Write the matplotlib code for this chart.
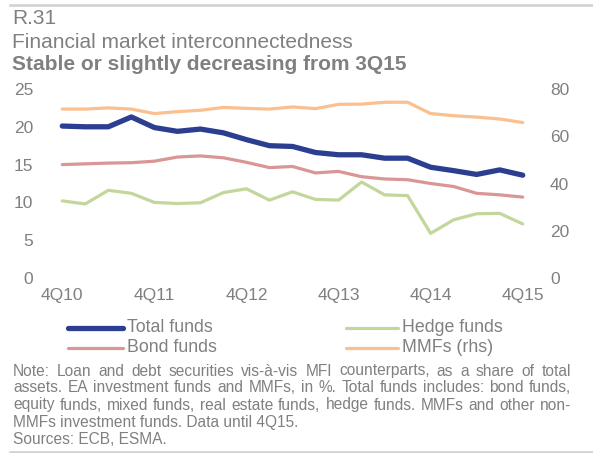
import matplotlib
matplotlib.use("Agg")
import matplotlib.pyplot as plt
from matplotlib.lines import Line2D

plt.rcParams['font.family'] = ['Liberation Sans', 'DejaVu Sans']

quarters = ["4Q10", "1Q11", "2Q11", "3Q11", "4Q11", "1Q12", "2Q12", "3Q12", "4Q12",
            "1Q13", "2Q13", "3Q13", "4Q13", "1Q14", "2Q14", "3Q14", "4Q14",
            "1Q15", "2Q15", "3Q15", "4Q15"]
total_funds = [20.1, 20.0, 20.0, 21.3, 19.9, 19.4, 19.7, 19.2, 18.3, 17.5, 17.4,
               16.6, 16.3, 16.3, 15.85, 15.85, 14.65, 14.2, 13.7, 14.3, 13.6]
bond_funds = [15.0, 15.1, 15.2, 15.25, 15.45, 16.0, 16.15, 15.9, 15.3, 14.6, 14.75,
              13.9, 14.1, 13.4, 13.1, 13.0, 12.5, 12.1, 11.2, 11.0, 10.7]
hedge_funds = [10.2, 9.8, 11.6, 11.2, 10.0, 9.85, 9.95, 11.3, 11.8, 10.3, 11.4,
               10.4, 10.3, 12.7, 11.0, 10.9, 5.9, 7.7, 8.5, 8.55, 7.15]
mmfs = [71.5, 71.5, 72.0, 71.5, 69.6, 70.4, 71.0, 72.2, 71.8, 71.5, 72.4,
        71.7, 73.5, 73.6, 74.4, 74.4, 69.6, 68.7, 68.1, 67.3, 65.8]
left_ticks = [0, 5, 10, 15, 20, 25]
right_ticks = [0, 20, 40, 60, 80]
xtick_labels = ["4Q10", "4Q11", "4Q12", "4Q13", "4Q14", "4Q15"]

C_TOTAL = "#2B3E8F"
C_BOND = "#D99694"
C_HEDGE = "#C3D69B"
C_MMF = "#FAC090"
GRAY = "#808080"

W, H = 593, 453
fig = plt.figure(figsize=(W / 100, H / 100), dpi=100)

def fx(px):
    return px / W

def fy(py):
    return 1 - py / H

ax_l, ax_r = 45, 540
ax_t, ax_b = 89, 278
ax = fig.add_axes([fx(ax_l), fy(ax_b), fx(ax_r - ax_l), (ax_b - ax_t) / H])
ax2 = ax.twinx()

x = list(range(len(quarters)))
ax2.plot(x, mmfs, color=C_MMF, lw=2.3, solid_capstyle='round', zorder=1)
ax.plot(x, hedge_funds, color=C_HEDGE, lw=2.3, solid_capstyle='round', zorder=2)
ax.plot(x, bond_funds, color=C_BOND, lw=2.3, solid_capstyle='round', zorder=3)
ax.plot(x, total_funds, color=C_TOTAL, lw=3.8, solid_capstyle='round', zorder=4)
ax.set_zorder(ax2.get_zorder() + 1)
ax.patch.set_visible(False)

ax.set_xlim(-0.75, 20.75)
ax.set_ylim(0, 25)
ax2.set_ylim(0, 80)
ax.set_yticks(left_ticks)
ax2.set_yticks(right_ticks)
ax.set_xticks([quarters.index(q) for q in xtick_labels])
ax.set_xticklabels(xtick_labels)

for a in (ax, ax2):
    for s in a.spines.values():
        s.set_visible(False)
    a.tick_params(length=0, colors=GRAY, labelsize=12.5)
ax.tick_params(axis='y', pad=8.6)
ax2.tick_params(axis='y', pad=7.2)
ax.tick_params(axis='x', pad=7.2)

# Titles
fig.text(fx(12), fy(24.5), "R.31", fontsize=15, color=GRAY, va='baseline')
fig.text(fx(12), fy(47.5), "Financial market interconnectedness", fontsize=15,
         color=GRAY, va='baseline')
fig.text(fx(12), fy(70), "Stable or slightly decreasing from 3Q15", fontsize=15,
         color=GRAY, fontweight='bold', va='baseline')

# frame lines
fig.add_artist(Line2D([fx(10), 1], [fy(4.8), fy(4.8)], color="#d0d0d0", lw=1.8))
fig.add_artist(Line2D([fx(10), 1], [fy(451.5), fy(451.5)], color="#d0d0d0", lw=1.8))

# Legend (manual placement)
legend_items = [("Total funds", C_TOTAL, 3.8, 68, 123, 327.5),
                ("Bond funds", C_BOND, 2.3, 68, 123, 347.5),
                ("Hedge funds", C_HEDGE, 2.3, 346, 398, 327.5),
                ("MMFs (rhs)", C_MMF, 2.3, 346, 398, 347.5)]
for label, c, lw, x0, x1, yy in legend_items:
    fig.add_artist(Line2D([fx(x0), fx(x1)], [fy(yy), fy(yy)], color=c, lw=lw,
                          solid_capstyle='round'))
    fig.text(fx(x1 + 4), fy(yy), label, fontsize=12.8, color=GRAY, va='center')

# Note text, justified lines
note_lines = [
    ("Note: Loan and debt securities vis-à-vis MFI counterparts, as a share of total", True),
    ("assets. EA investment funds and MMFs, in %. Total funds includes: bond funds,", True),
    ("equity funds, mixed funds, real estate funds, hedge funds. MMFs and other non-", True),
    ("MMFs investment funds. Data until 4Q15.", False),
    ("Sources: ECB, ESMA.", False),
]
note_x0, note_x1 = 13, 571
note_y0, note_dy = 375.5, 17
NOTE_FS = 11.2
fig.canvas.draw()
renderer = fig.canvas.get_renderer()
for i, (line, justify) in enumerate(note_lines):
    yy = fy(note_y0 + i * note_dy)
    if not justify:
        fig.text(fx(note_x0), yy, line, fontsize=NOTE_FS, color=GRAY, va='baseline')
        continue
    words = line.split(" ")
    arts = [fig.text(0, yy, w, fontsize=NOTE_FS, color=GRAY, va='baseline') for w in words]
    widths = [a.get_window_extent(renderer).width for a in arts]
    gap = (note_x1 - note_x0 - sum(widths)) / (len(words) - 1)
    cur = note_x0
    for a, w in zip(arts, widths):
        a.set_x(fx(cur))
        cur += w + gap

fig.savefig("out.png", dpi=100)
